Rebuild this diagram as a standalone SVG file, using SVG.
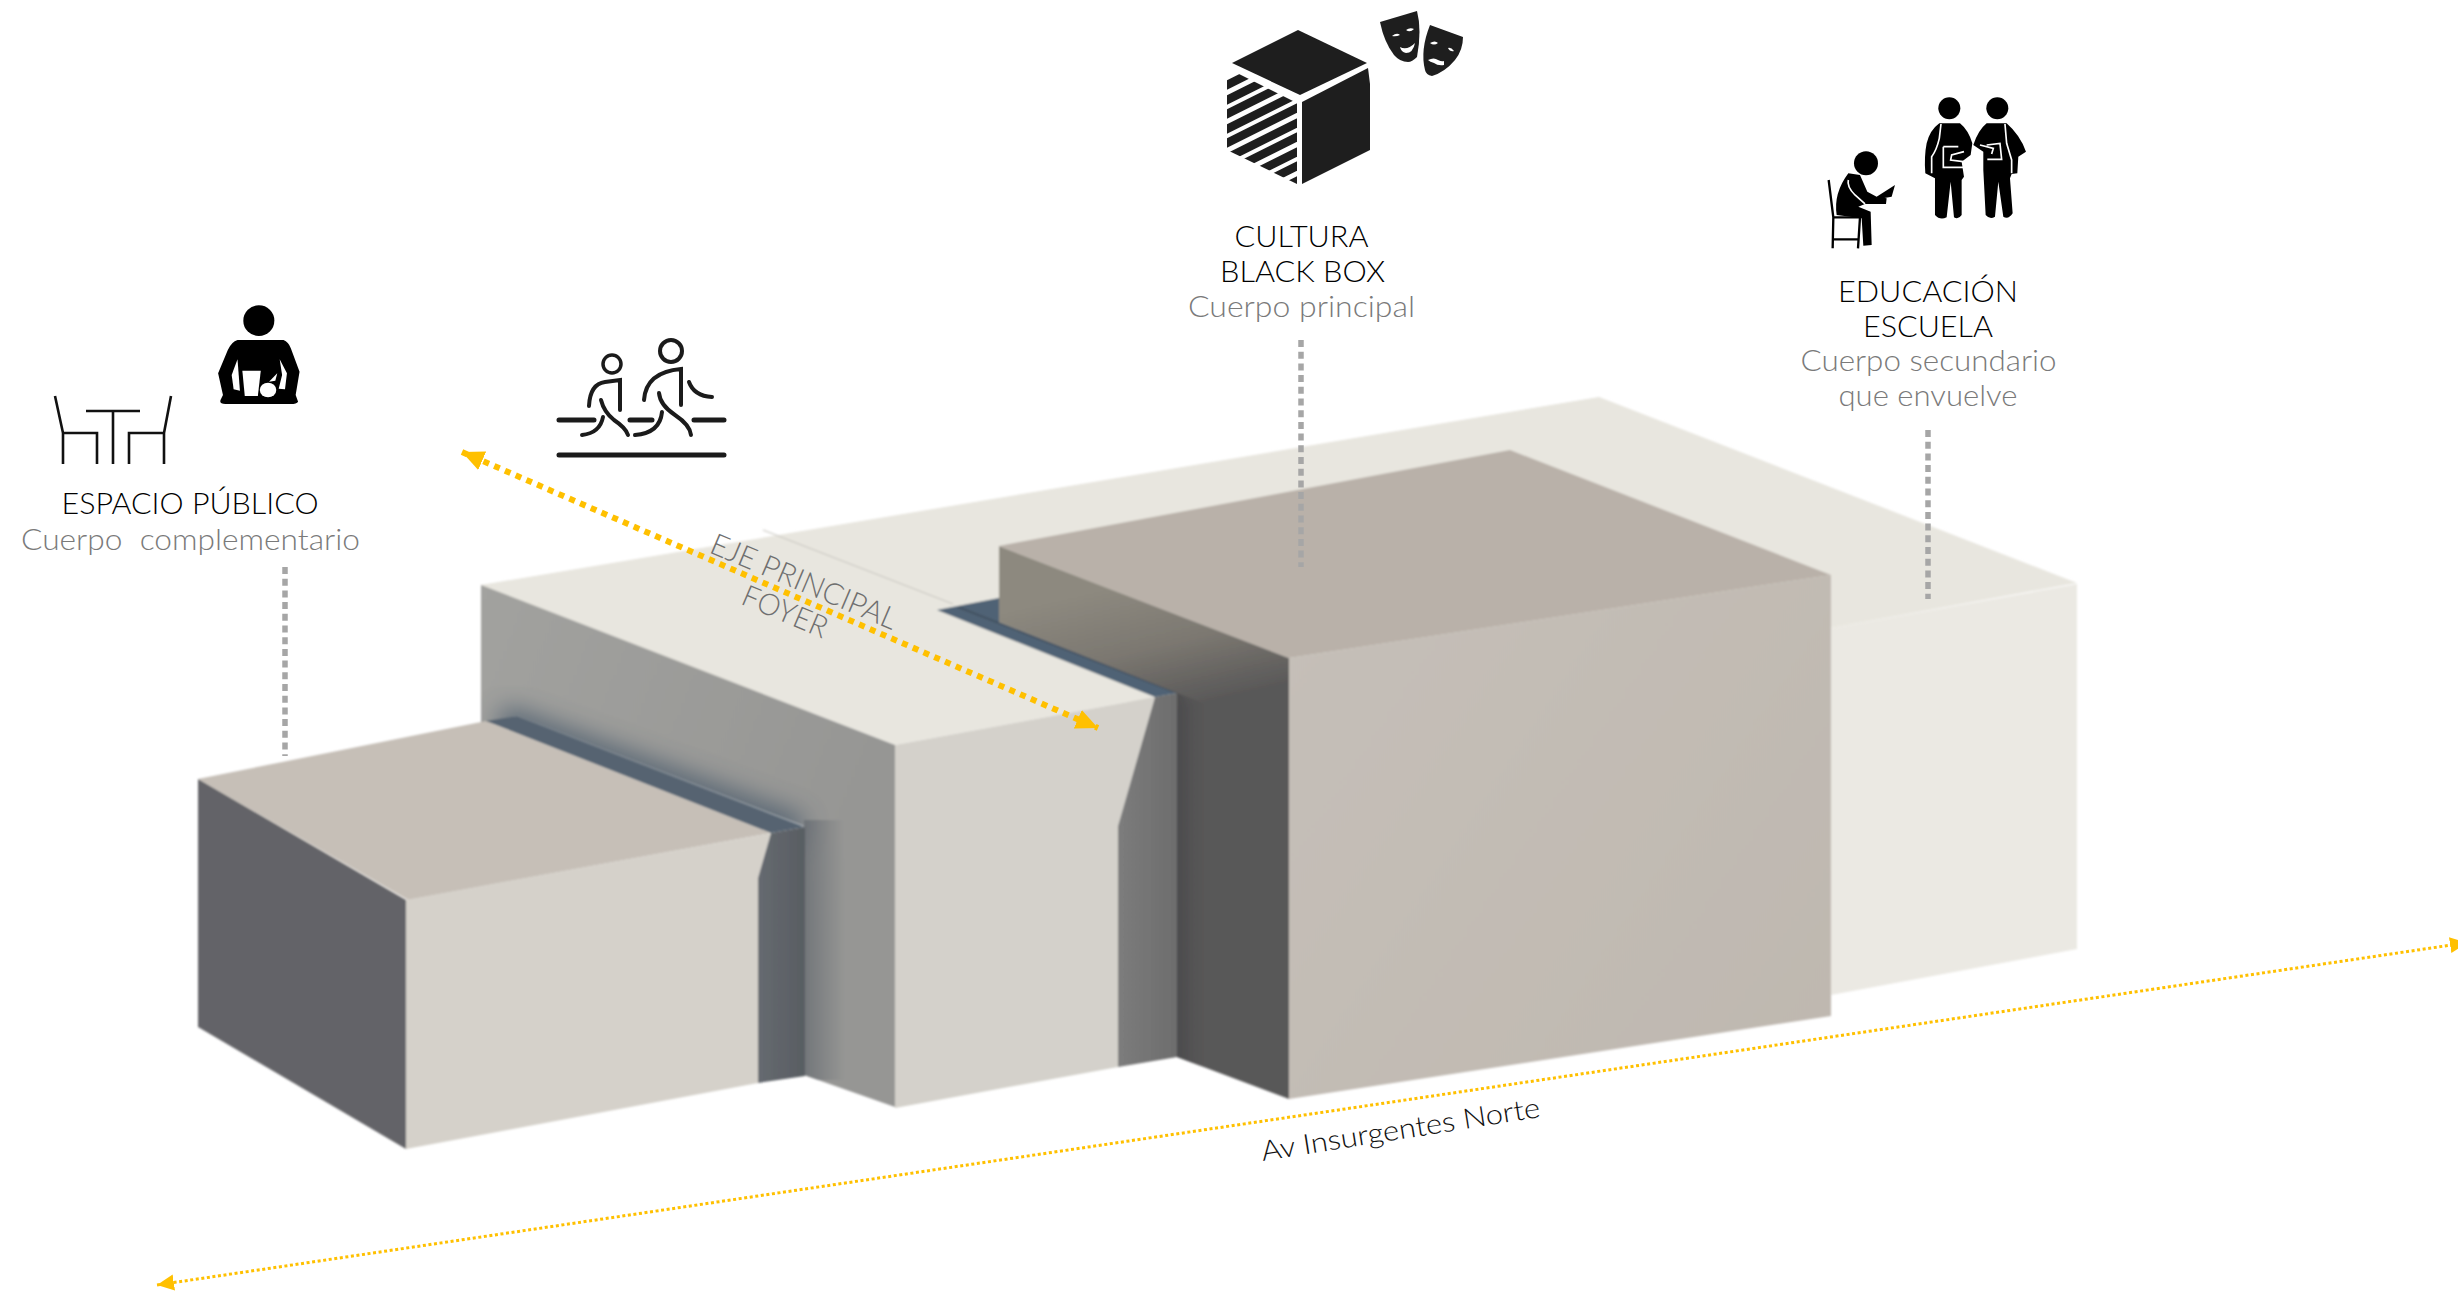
<svg xmlns="http://www.w3.org/2000/svg" width="2458" height="1294" viewBox="0 0 2458 1294">
<style>
text{font-family:"Lato","Liberation Sans",sans-serif;font-weight:300;font-size:30px;text-anchor:middle}
.t{fill:#000}.s{fill:#7a7a7a}.r{fill:#6f6f6f}
.ic{fill:#000}.w{fill:#fff}.wl{fill:none;stroke:#fff;stroke-width:5}
.ln{fill:none;stroke:#1b1b1b;stroke-linecap:round}
.gray{fill:none;stroke:#a6a6a6;stroke-width:5.5;stroke-dasharray:7 4.7}
.or1{fill:none;stroke:#ffc000;stroke-width:6;stroke-dasharray:6 5.7}
.or2{fill:none;stroke:#ffc000;stroke-width:3;stroke-dasharray:3 2.6}
</style>
<defs>
<marker id="big" markerUnits="userSpaceOnUse" markerWidth="24" markerHeight="22" refX="22" refY="11" orient="auto-start-reverse"><path d="M0 1L22 11L0 21Z" fill="#ffc000"/></marker>
<marker id="small" markerUnits="userSpaceOnUse" markerWidth="18" markerHeight="18" refX="17" refY="9" orient="auto-start-reverse"><path d="M0 1L17 9L0 17Z" fill="#ffc000"/></marker>
<filter id="soft" x="-5%" y="-5%" width="110%" height="110%"><feGaussianBlur stdDeviation="0.8"/></filter>
<filter id="b14" x="-30%" y="-30%" width="160%" height="160%"><feGaussianBlur stdDeviation="13"/></filter>
<linearGradient id="fl" gradientUnits="userSpaceOnUse" x1="481" y1="585" x2="895" y2="745"><stop offset="0" stop-color="#a2a29f"/><stop offset="1" stop-color="#969694"/></linearGradient>
<linearGradient id="fv" gradientUnits="userSpaceOnUse" x1="804" y1="0" x2="845" y2="0"><stop offset="0" stop-color="#666b71" stop-opacity=".75"/><stop offset="1" stop-color="#666b71" stop-opacity="0"/></linearGradient>
<linearGradient id="bl" gradientUnits="userSpaceOnUse" x1="1100" y1="590" x2="1130" y2="720"><stop offset="0" stop-color="#8d897f"/><stop offset=".5" stop-color="#7c7871"/><stop offset="1" stop-color="#595858"/></linearGradient>
<linearGradient id="be" gradientUnits="userSpaceOnUse" x1="1177" y1="0" x2="1205" y2="0"><stop offset="0" stop-color="#49494b" stop-opacity=".8"/><stop offset="1" stop-color="#49494b" stop-opacity="0"/></linearGradient>
<linearGradient id="bf" gradientUnits="userSpaceOnUse" x1="1289" y1="658" x2="1831" y2="1016"><stop offset="0" stop-color="#c5bfb8"/><stop offset="1" stop-color="#bfb8b0"/></linearGradient>
<linearGradient id="sd" gradientUnits="userSpaceOnUse" x1="758" y1="0" x2="805" y2="0"><stop offset="0" stop-color="#666a70"/><stop offset="1" stop-color="#585d62"/></linearGradient>
<linearGradient id="ds" gradientUnits="userSpaceOnUse" x1="1118" y1="0" x2="1177" y2="0"><stop offset="0" stop-color="#7c7c7c"/><stop offset="1" stop-color="#6d6d6d"/></linearGradient>
<clipPath id="fc"><path d="M481 585L895 745L895 1107L804 1075L804 826L517 716L481 724Z"/></clipPath>
<clipPath id="cs"><path d="M1227 68L1297 103L1297 184L1227 150Z"/></clipPath>
</defs>
<rect width="2458" height="1294" fill="#fff"/>

<g id="volumen" filter="url(#soft)">
<path d="M481 585L1599 397L2077 583L1831 628L1177 700L481 724Z" fill="#e8e6df"/>
<path d="M1831 628L2077 584L2077 949L1831 995Z" fill="#ebe9e3"/>
<path d="M481 585L895 745L1155 697L937 610L1010 570L800 560Z" fill="#e8e6df"/>
<path d="M481 585L895 745L895 1107L804 1075L804 826L517 716L481 724Z" fill="url(#fl)"/>
<g clip-path="url(#fc)">
<path d="M500 720L800 832" fill="none" stroke="#46596b" stroke-width="30" opacity=".85" filter="url(#b14)"/>
<rect x="804" y="820" width="45" height="260" fill="url(#fv)"/>
</g>
<path d="M895 745L1155 697L1118 826L1118 1067L895 1108Z" fill="#d4d1cb"/>
<path d="M1155 697L1177 693L1177 1057L1118 1067L1118 826Z" fill="url(#ds)"/>
<path d="M937 610L999 598L999 622L1177 693L1155 697Z" fill="#506274"/>
<path d="M958 607L1177 693" fill="none" stroke="#3f4d5b" stroke-width="1.5"/>
<path d="M763 530L953 604" fill="none" stroke="#cbc9c3" stroke-width="1.2"/>
<path d="M999 546L1289 658L1289 1099L1177 1057L1177 693L999 622Z" fill="url(#bl)"/>
<path d="M1177 693L1205 704L1205 1068L1177 1057Z" fill="url(#be)"/>
<path d="M999 546L1510 450L1831 575L1289 658Z" fill="#b9b1a9"/>
<path d="M1289 658L1831 575L1831 1016L1289 1099Z" fill="url(#bf)"/>
<path d="M198 779L486 721L771 833L408 900Z" fill="#c6bfb7"/>
<path d="M486 721L517 716L805 827L771 833Z" fill="#566471"/>
<path d="M198 779L406 900L406 1149L198 1027Z" fill="#646467"/>
<path d="M406 900L771 833L758 878L758 1083L406 1149Z" fill="#d5d1ca"/>
<path d="M771 833L805 827L805 1076L758 1083L758 878Z" fill="url(#sd)"/>
</g>

<g id="connectors">
<path class="gray" d="M285 567V756"/>
<path class="gray" d="M1301 340V567"/>
<path class="gray" d="M1928 430V599"/>
<path class="or1" d="M462 452L1098 728" marker-start="url(#big)" marker-end="url(#big)"/>
<path class="or2" d="M157 1285L2467 942.700" marker-start="url(#small)" marker-end="url(#small)"/>
</g>

<g id="rotulos-eje">
<text class="r" transform="translate(800 591) rotate(23)" textLength="200" lengthAdjust="spacingAndGlyphs">EJE PRINCIPAL</text>
<text class="r" transform="translate(781 621) rotate(23)" textLength="90" lengthAdjust="spacingAndGlyphs">FOYER</text>
<text fill="#111" transform="translate(1402 1139) rotate(-9)" textLength="282" lengthAdjust="spacingAndGlyphs" style="font-size:28px">Av Insurgentes Norte</text>
</g>

<g id="espacio-publico">
<g transform="translate(0 260) scale(.4847 .3333)">
<ellipse class="ic" cx="534" cy="182" rx="32" ry="46"/>
<path class="ic" d="M490 240L585 240Q595 245 600 265L618 335L610 405L615 425Q612 432 600 432L465 432Q452 432 455 420L460 405L450 340L470 270Q478 245 490 240Z"/>
<path class="w" d="M478 345L490 298L495 392L482 388Z"/>
<path class="w" d="M500 332L538 332L532 408L505 408Z"/>
<ellipse class="w" cx="553" cy="390" rx="17" ry="22"/>
<path class="w" d="M555 365L572 340L568 362Z"/>
<path class="w" d="M577 298L592 340L588 388L575 386L582 345Z"/>
</g>
<path d="M55 396L63 433H97V464M63 433V464M86 411H140M113 411V464M171 396L164 433H129V464M164 433V464" fill="none" stroke="#111" stroke-width="2.6"/>
<text class="t" x="190" y="514" textLength="257" lengthAdjust="spacingAndGlyphs">ESPACIO PÚBLICO</text>
<text class="s" x="190.500" y="550" textLength="339" lengthAdjust="spacingAndGlyphs" xml:space="preserve">Cuerpo  complementario</text>
</g>

<g id="circulacion">
<path class="ln" stroke-width="5" d="M559 455H724M559 420H594M630 420H652M694 420H724"/>
<circle class="ln" stroke-width="3.5" cx="612" cy="364" r="9"/>
<circle class="ln" stroke-width="4" cx="671" cy="351" r="11"/>
<path class="ln" stroke-width="4" d="M589 406Q590 384 605 382L620 380V410M601 400Q604 412 614 420Q626 428 628 435M603 417Q600 433 582 435"/>
<path class="ln" stroke-width="4" d="M644 400Q646 372 681 369V405M689 382Q694 396 712 397M659 393Q660 405 675 415Q690 425 691 435M662 412Q660 433 635 435"/>
</g>

<g id="cultura">
<path fill="#1e1e1e" d="M1298 30L1367 63L1300 95L1232 63Z"/>
<path fill="#1e1e1e" d="M1302 102L1368 68L1370 84L1370 150L1302 184Z"/>
<g clip-path="url(#cs)" stroke="#1e1e1e" stroke-width="8.500" fill="none">
<path d="M1217 68L1247 53M1217 90L1277 60M1217 105L1297 65M1217 119L1317 69M1217 134L1317 84M1217 148L1317 98M1217 163L1317 113M1217 177L1317 127M1217 192L1317 142M1217 206L1317 156M1217 221L1317 171"/>
</g>
<path fill="#1e1e1e" d="M1380 22L1417 11Q1422 30 1417 57Q1412 62 1408 62Q1400 62 1394 55Q1384 42 1380 22Z"/>
<path fill="#1e1e1e" d="M1430 25L1463 37Q1463 50 1455 60Q1445 72 1432 76Q1426 75 1425 70Q1420 50 1430 25Z"/>
<path class="w" d="M1392 36Q1397 32 1400 35Q1396 37 1392 36ZM1406 30Q1410 27 1414 29Q1410 33 1406 30ZM1400 47Q1407 51 1415 43Q1413 53 1406 53Q1401 52 1400 47ZM1430 43Q1435 40 1438 43Q1434 46 1430 43ZM1448 48Q1451 47 1454 51Q1450 52 1448 48ZM1428 60Q1434 57 1438 60Q1442 62 1444 61L1444 65Q1438 66 1434 63Q1430 62 1428 60Z"/>
<text class="t" x="1301.500" y="247" textLength="134" lengthAdjust="spacingAndGlyphs">CULTURA</text>
<text class="t" x="1302.500" y="282" textLength="165" lengthAdjust="spacingAndGlyphs">BLACK BOX</text>
<text class="s" x="1301.500" y="317" textLength="227" lengthAdjust="spacingAndGlyphs">Cuerpo principal</text>
</g>

<g id="educacion">
<g transform="translate(1780 80) scale(.3333)">
<circle class="ic" cx="508" cy="85" r="33"/><circle class="ic" cx="652" cy="85" r="33"/><circle class="ic" cx="258" cy="250" r="36"/>
<path class="ic" d="M478 130L540 130Q565 150 577 190L572 225L545 245L552 290L545 300L545 405Q535 420 522 412L512 305L500 412Q480 422 465 405L465 295L436 280Q432 230 440 190Q450 150 478 130Z"/>
<path class="wl" d="M483 132L478 175Q470 210 455 230V280M490 200H535M490 200V262H550M552 215L515 225L512 240L550 245"/>
<path class="ic" d="M620 130L680 130Q720 165 738 215L715 230L712 280L695 282L690 295L698 400Q685 420 670 410L655 305L645 410Q630 420 617 405L610 270L610 215L580 195Q595 150 620 130Z"/>
<path class="wl" d="M675 132L680 190L695 240V280M620 195L660 190L665 238H622M600 195L640 205L635 222"/>
<path class="ic" d="M205 280L240 285L262 335L290 350L320 355L318 372L255 372L235 380L272 395L275 495L250 497L245 415L170 405Q160 340 205 280Z"/>
<path class="ic" d="M290 350L345 315L335 350L300 356Z"/>
<path class="wl" d="M205 300Q200 320 225 345L255 372"/>
<path fill="none" stroke="#000" stroke-width="7" d="M146 300L160 412H240L234 505M160 412L158 505M160 478H235"/>
</g>
<text class="t" x="1928" y="302" textLength="180" lengthAdjust="spacingAndGlyphs">EDUCACIÓN</text>
<text class="t" x="1928" y="337" textLength="130" lengthAdjust="spacingAndGlyphs">ESCUELA</text>
<text class="s" x="1928.500" y="371" textLength="256" lengthAdjust="spacingAndGlyphs">Cuerpo secundario</text>
<text class="s" x="1928" y="406" textLength="179" lengthAdjust="spacingAndGlyphs">que envuelve</text>
</g>
</svg>
